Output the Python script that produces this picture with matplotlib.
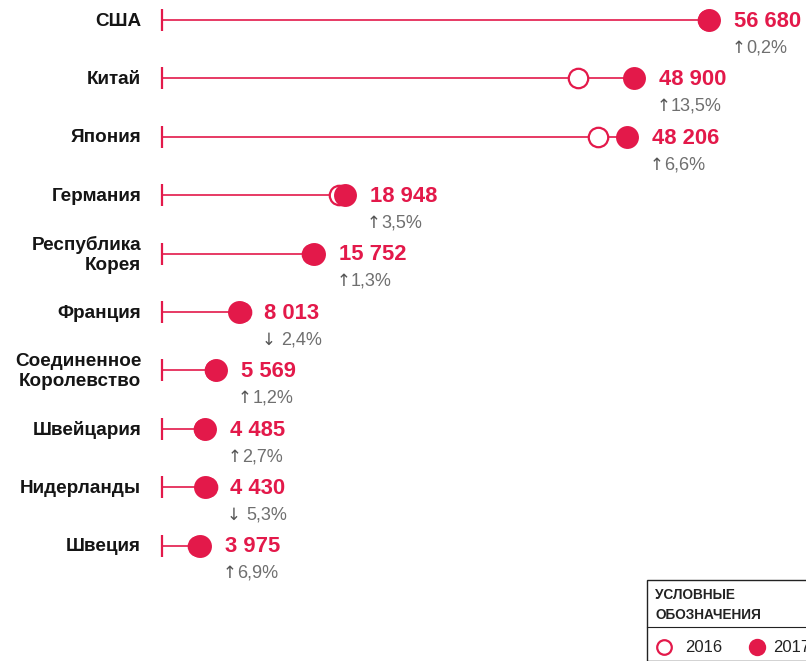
import matplotlib.pyplot as plt
from matplotlib.patches import Rectangle
from matplotlib.lines import Line2D

# donnees
pays = ['США', 'Китай', 'Япония', 'Германия', 'Республика\nКорея', 'Франция',
        'Соединенное\nКоролевство', 'Швейцария', 'Нидерланды', 'Швеция']
val_2017 = [56680, 48900, 48206, 18948, 15752, 8013, 5569, 4485, 4430, 3975]
val_2016 = [56570, 43100, 45200, 18310, 15550, 8210, 5500, 4370, 4680, 3720]
variation = ['0,2', '13,5', '6,6', '3,5', '1,3', '2,4', '1,2', '2,7', '5,3', '6,9']
hausse = [True, True, True, True, True, False, True, True, False, True]

ROUGE = '#e3194a'
GRIS = '#6f6f6f'
POLICE = ['Liberation Sans', 'DejaVu Sans']

plt.rcParams['font.family'] = POLICE

fig = plt.figure(figsize=(8.06, 6.61), dpi=100)
ax = fig.add_axes([0, 0, 1, 1])
ax.set_xlim(-16786, 66731)
ax.set_ylim(10.976, -0.342)
ax.axis('off')

for i, nom in enumerate(pays):
    v17 = val_2017[i]
    v16 = val_2016[i]
    # trait de base + ligne
    ax.plot([0], [i], marker='|', ms=16.5, mew=1.6, color=ROUGE, zorder=2)
    ax.plot([0, v17], [i, i], color=ROUGE, lw=1.2, zorder=1)
    ax.plot([v16], [i], marker='o', ms=14, mfc='white', mec=ROUGE, mew=1.6, zorder=3)
    ax.plot([v17], [i], marker='o', ms=16.5, mfc=ROUGE, mec=ROUGE, mew=0, zorder=4)

    ax.text(-2150, i + 0.02, nom, ha='right', va='center', ma='right', fontsize=13.6,
            fontweight='bold', color='#151515', linespacing=1.22)

    ax.annotate(f'{v17:,}'.replace(',', ' '), (v17, i), xytext=(18, -1),
                textcoords='offset points', ha='left', va='center',
                fontsize=15.8, fontweight='bold', color=ROUGE)
    fleche = '↑' if hausse[i] else '↓'
    ax.annotate(fleche, (v17, i), xytext=(16, -20),
                textcoords='offset points', ha='left', va='center',
                fontsize=12, color='#555555', family='DejaVu Sans')
    decal = 26.5 if hausse[i] else 30
    ax.annotate(variation[i] + '%', (v17, i), xytext=(decal, -20),
                textcoords='offset points', ha='left', va='center',
                fontsize=13, color=GRIS)

# legende
W, H = 806, 661
fig.patches.append(Rectangle((647 / W, 0), 200 / W, (661 - 580) / H,
                             transform=fig.transFigure, fill=False,
                             ec='#222222', lw=1.0))
fig.add_artist(Line2D([647 / W, 1], [(661 - 627) / H] * 2,
                      transform=fig.transFigure, color='#222222', lw=0.8))
fig.text(655 / W, (661 - 605) / H, 'УСЛОВНЫЕ\nОБОЗНАЧЕНИЯ', fontsize=9.8,
         fontweight='bold', color='#222222', va='center', ha='left',
         linespacing=1.55)
fig.add_artist(Line2D([664 / W], [(661 - 647) / H], transform=fig.transFigure,
                      marker='o', ms=10.5, mfc='white', mec=ROUGE, mew=1.6))
fig.text(685 / W, (661 - 647) / H, '2016', fontsize=12, va='center',
         color='#222222')
fig.add_artist(Line2D([757 / W], [(661 - 647) / H], transform=fig.transFigure,
                      marker='o', ms=12.5, mfc=ROUGE, mec=ROUGE, mew=0))
fig.text(773 / W, (661 - 647) / H, '2017', fontsize=12, va='center',
         color='#222222')

fig.savefig('out.png', dpi=100)
